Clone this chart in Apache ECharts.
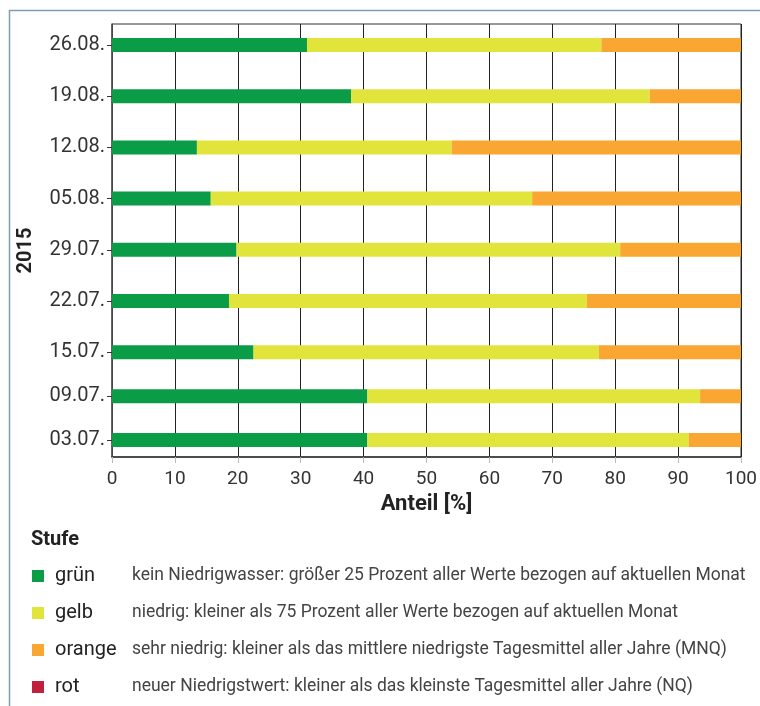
<!DOCTYPE html>
<html>
<head>
<meta charset="utf-8">
<script src="https://cdn.jsdelivr.net/npm/echarts@6/dist/echarts.min.js"></script>
<style>html,body{margin:0;padding:0;background:#fff}#c{width:760px;height:706px}</style>
</head>
<body>
<div id="c"></div>
<script>
// ---- data ----
const dates = ['2015-07-03','2015-07-09','2015-07-15','2015-07-22','2015-07-29','2015-08-05','2015-08-12','2015-08-19','2015-08-26'];
const dateLabels = ['03.07.','09.07.','15.07.','22.07.','29.07.','05.08.','12.08.','19.08.','26.08.'];
const gruen  = [40.6, 40.6, 22.5, 18.6, 19.8, 15.7, 13.5, 38.0, 31.0];
const gelb   = [51.1, 52.9, 54.9, 56.9, 61.0, 51.1, 40.5, 47.5, 46.8];
const orange = [8.3, 6.5, 22.6, 24.5, 19.2, 33.2, 46.0, 14.5, 22.2];
const rot    = [0, 0, 0, 0, 0, 0, 0, 0, 0];
const xTicks = [0, 10, 20, 30, 40, 50, 60, 70, 80, 90, 100];
const stufen = ['grün', 'gelb', 'orange', 'rot'];
const beschreibung = [
  'kein Niedrigwasser: größer 25 Prozent aller Werte bezogen auf aktuellen Monat',
  'niedrig: kleiner als 75 Prozent aller Werte bezogen auf aktuellen Monat',
  'sehr niedrig: kleiner als das mittlere niedrigste Tagesmittel aller Jahre (MNQ)',
  'neuer Niedrigstwert: kleiner als das kleinste Tagesmittel aller Jahre (NQ)'
];
const colors = ['#0b9c48', '#e1e43a', '#f9a632', '#c0203d'];

// ---- layout ----
const DAY = 86400000;
const GRID_TOP = 24, GRID_BOTTOM = 249, CHART_H = 706;
const BAR_W = 14;
const PAD_BEFORE_DAYS = 2.32, PAD_AFTER_DAYS = 2.87;

// ---- build ----
const ts = dates.map(d => { const p = d.split('-').map(Number); return Date.UTC(p[0], p[1]-1, p[2]); });
const seriesValues = [gruen, gelb, orange, rot];
const yMin = ts[0] - PAD_BEFORE_DAYS * DAY;
const yMax = ts[ts.length - 1] + PAD_AFTER_DAYS * DAY;
// ECharts widens a bar base axis so the bars fit; pre-shrink the time axis so both y axes share one extent
const axisLen = CHART_H - GRID_TOP - GRID_BOTTOM;
const range = yMax - yMin;
const inner = range * (1 - BAR_W / axisLen);
const tMin = yMin + (range - inner) / 2;
const tMax = yMax - (range - inner) / 2;

const chart = echarts.init(document.getElementById('c'), null, {renderer: 'canvas'});
const option = {
  animation: false,
  textStyle: {fontFamily: 'Roboto'},
  title: {
    text: 'Stufe', left: 26, top: 525,
    textStyle: {fontFamily: 'Roboto', fontWeight: 'bold', fontSize: 20, color: '#222'}
  },
  graphic: [{
    id: 'frame', type: 'rect', left: 7, top: 8, silent: true,
    shape: {x: 0, y: 0, width: 820, height: 820},
    style: {fill: 'none', stroke: '#7f9fb0', lineWidth: 1.5}
  }],
  legend: {
    orient: 'vertical', left: 27, top: 561,
    itemWidth: 12, itemHeight: 12, itemGap: 17,
    icon: 'rect', selectedMode: false,
    data: stufen,
    formatter: function (name) {
      const i = stufen.indexOf(name);
      return '{n|' + name + '}{d|' + beschreibung[i] + '}';
    },
    textStyle: {
      rich: {
        n: {fontFamily: 'Roboto', fontSize: 20, color: '#222', width: 77, padding: [0, 0, 0, 6], lineHeight: 20},
        d: {fontFamily: 'Roboto', fontSize: 17.5, color: '#444', lineHeight: 20}
      }
    }
  },
  grid: {
    left: 112, right: 19, top: GRID_TOP, bottom: GRID_BOTTOM,
    show: true, borderColor: '#333', borderWidth: 1, backgroundColor: 'transparent'
  },
  xAxis: {
    type: 'value', min: 0, max: 100, interval: 10,
    name: 'Anteil [%]', nameLocation: 'middle', nameGap: 36,
    nameTextStyle: {fontFamily: 'Roboto', fontWeight: 'bold', fontSize: 22, color: '#222'},
    axisLine: {show: true, lineStyle: {color: '#333', width: 1.5}},
    axisTick: {show: true, length: 6, lineStyle: {color: '#bbb'}},
    axisLabel: {fontFamily: 'Roboto', fontSize: 19, color: '#333', margin: 13,
      formatter: v => (xTicks.indexOf(v) >= 0 ? String(v) : '')},
    splitLine: {show: true, lineStyle: {color: '#222', width: 1}}
  },
  yAxis: [{
    type: 'time', min: tMin, max: tMax, position: 'left',
    axisLine: {show: false}, axisTick: {show: false}, axisLabel: {show: false},
    splitLine: {show: false}
  }, {
    type: 'value', min: yMin, max: yMax, position: 'left', offset: 0,
    name: '2015', nameLocation: 'middle', nameGap: 76,
    nameTextStyle: {fontFamily: 'Roboto', fontWeight: 'bold', fontSize: 20, color: '#222', padding: [0, 20, 0, 0]},
    axisLine: {show: true, onZero: false, lineStyle: {color: '#555', width: 1.5}},
    axisTick: {show: true, length: 5, lineStyle: {color: '#333'}, customValues: ts},
    axisLabel: {
      fontFamily: 'Roboto', fontSize: 20, color: '#333', margin: 7,
      customValues: ts,
      formatter: function (v) {
        const i = ts.indexOf(v);
        return i >= 0 ? dateLabels[i] : '';
      }
    },
    splitLine: {show: false}
  }],
  series: stufen.map((name, k) => ({
    name: name,
    type: 'bar',
    stack: 'anteil',
    barWidth: BAR_W,
    yAxisIndex: 0,
    itemStyle: {color: colors[k]},
    data: seriesValues[k].map((v, i) => [v, ts[i]])
  }))
};
chart.setOption(option);
</script>
</body>
</html>
